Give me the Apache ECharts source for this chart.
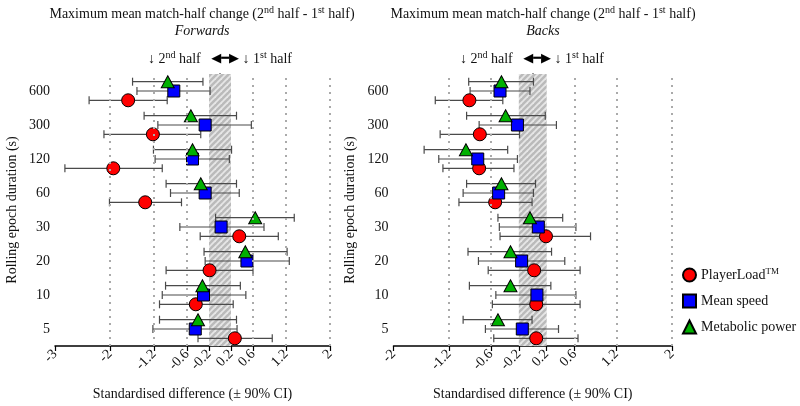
<!DOCTYPE html>
<html><head><meta charset="utf-8">
<script src="https://cdn.jsdelivr.net/npm/echarts@6/dist/echarts.min.js"></script>
<style>html,body{margin:0;padding:0;background:#fff}#c{width:800px;height:406px}</style>
</head><body><div id="c"></div>
<script>
// ---- data (categories bottom to top) ----
const durations = ['5','10','20','30','60','120','300','600'];
const ticksFwd = [-3,-2,-1.2,-0.6,-0.2,0.2,0.6,1.2,2];
const ticksBck = [-2,-1.2,-0.6,-0.2,0.2,0.6,1.2,2];
const gridFwd = [-2,-1.2,-0.6,0.6,1.2,2];
const gridBck = [-1.2,-0.6,0.6,1.2,2];
const trivialBand = [-0.2, 0.2];

// Forwards
const fwdPL   = [0.27,-0.44,-0.19,0.35,-1.36,-1.94,-1.22,-1.67];
const fwdPLlo = [-0.40,-1.10,-0.98,-0.36,-2.01,-2.82,-2.11,-2.38];
const fwdPLhi = [0.95,0.24,0.60,1.06,-0.70,-1.05,-0.35,-0.96];
const fwdMS   = [-0.45,-0.30,0.49,0.02,-0.27,-0.50,-0.27,-0.84];
const fwdMSlo = [-1.22,-1.05,-0.27,-0.73,-0.90,-1.18,-1.13,-1.51];
const fwdMShi = [0.31,0.47,1.26,0.80,0.35,0.17,0.57,-0.18];
const fwdMP   = [-0.40,-0.32,0.46,0.64,-0.35,-0.50,-0.53,-0.95];
const fwdMPlo = [-1.10,-0.99,-0.29,-0.08,-0.98,-1.21,-1.38,-1.59];
const fwdMPhi = [0.30,0.37,1.22,1.35,0.30,0.21,0.30,-0.31];

// Backs
const bckPL   = [0.05,0.05,0.02,0.19,-0.54,-0.77,-0.76,-0.91];
const bckPLlo = [-0.56,-0.58,-0.64,-0.47,-1.06,-1.29,-1.33,-1.40];
const bckPLhi = [0.65,0.68,0.68,0.83,-0.01,-0.27,-0.19,-0.43];
const bckMS   = [-0.15,0.06,-0.16,0.08,-0.49,-0.79,-0.22,-0.47];
const bckMSlo = [-0.68,-0.53,-0.78,-0.48,-1.00,-1.35,-0.77,-0.90];
const bckMShi = [0.37,0.62,0.46,0.62,0.01,-0.22,0.34,-0.04];
const bckMP   = [-0.50,-0.32,-0.32,-0.04,-0.45,-0.96,-0.39,-0.45];
const bckMPlo = [-1.00,-0.91,-0.93,-0.50,-0.95,-1.56,-0.95,-0.92];
const bckMPhi = [-0.01,0.26,0.27,0.43,0.04,-0.36,0.18,0.01];

// ---- styling ----
const FONT = 'Liberation Serif';
const OFF = 9.3;
const metrics = [
  {name:'PlayerLoad', symbol:'circle', color:'#ff0000', size:13, off: OFF},
  {name:'Mean speed', symbol:'rect', color:'#0000ff', size:12, off: 0},
  {name:'Metabolic power', symbol:'triangle', color:'#00b000', size:13, off: -OFF}
];
const panels = [
  {m:[[fwdPL,fwdPLlo,fwdPLhi],[fwdMS,fwdMSlo,fwdMShi],[fwdMP,fwdMPlo,fwdMPhi]], ticks:ticksFwd, grid:gridFwd, min:-3, max:2},
  {m:[[bckPL,bckPLlo,bckPLhi],[bckMS,bckMSlo,bckMShi],[bckMP,bckMPlo,bckMPhi]], ticks:ticksBck, grid:gridBck, min:-2, max:2}
];

// hatch pattern
const P = 6;
const pc = document.createElement('canvas');
pc.width = P; pc.height = P;
const g = pc.getContext('2d');
g.fillStyle = '#bababa'; g.fillRect(0,0,P,P);
g.strokeStyle = '#e6e6e6'; g.lineWidth = 1.8;
g.beginPath(); g.moveTo(-1,P+1); g.lineTo(P+1,-1); g.stroke();
g.beginPath(); g.moveTo(-1,1); g.lineTo(1,-1); g.stroke();
g.beginPath(); g.moveTo(P-1,P+1); g.lineTo(P+1,P-1); g.stroke();

const chart = echarts.init(document.getElementById('c'), null, {renderer:'canvas'});

const grids = [
  {left:55, right:470, top:74, bottom:57},
  {left:393.5, right:128, top:74, bottom:57}
];
const xAxes = [], yAxes = [], series = [];
panels.forEach((p, pi) => {
  xAxes.push({
    type:'value', gridIndex:pi, min:p.min, max:p.max,
    name:'Standardised difference (± 90% CI)', nameLocation:'middle', nameGap:41,
    nameTextStyle:{fontFamily:FONT, fontSize:14, color:'#111'},
    axisLine:{show:true, onZero:false, lineStyle:{color:'#000', width:1.5}},
    axisTick:{show:true, length:5, lineStyle:{color:'#000', width:1.2}, customValues:p.ticks},
    axisLabel:{rotate:45, fontFamily:FONT, fontSize:14, color:'#111', margin:6, customValues:p.ticks,
      formatter: v => String(v)},
    splitLine:{show:false}
  });
  yAxes.push({
    type:'category', gridIndex:pi, data:durations, boundaryGap:true,
    name:'Rolling epoch duration (s)', nameLocation:'middle', nameGap:36,
    nameTextStyle:{fontFamily:FONT, fontSize:14, color:'#111'},
    axisLine:{show:true, lineStyle:{color:'#000', width:1.5}},
    axisTick:{show:true, alignWithLabel:true, length:5, lineStyle:{color:'#000', width:1.2}},
    axisLabel:{fontFamily:FONT, fontSize:14, color:'#111', margin:5},
    splitLine:{show:false}
  });
  // reference band + dotted grid lines
  series.push({
    type:'scatter', xAxisIndex:pi, yAxisIndex:pi, data:[], silent:true, z:1,
    markArea:{silent:true, itemStyle:{color:{image:pc, repeat:'repeat'}},
      data:[[{xAxis:trivialBand[0]},{xAxis:trivialBand[1]}]]},
    markLine:{silent:true, symbol:'none', label:{show:false},
      lineStyle:{color:'#aaaaaa', type:[2,5], width:2},
      data:p.grid.map(v => ({xAxis:v}))}
  });
  p.m.forEach((arrs, mi) => {
    const mt = metrics[mi];
    const [mean, lo, hi] = arrs;
    series.push({
      type:'custom', xAxisIndex:pi, yAxisIndex:pi, z:2, silent:true,
      data: durations.map((d,i) => [lo[i], hi[i], i]),
      encode:{x:[0,1], y:2},
      renderItem:(params, api) => {
        const a = api.coord([api.value(0), api.value(2)]);
        const b = api.coord([api.value(1), api.value(2)]);
        const y = a[1] + mt.off;
        const st = {stroke:'#4a4a4a', lineWidth:1.2};
        return {type:'group', children:[
          {type:'line', shape:{x1:a[0], y1:y, x2:b[0], y2:y}, style:st},
          {type:'line', shape:{x1:a[0], y1:y-4, x2:a[0], y2:y+4}, style:st},
          {type:'line', shape:{x1:b[0], y1:y-4, x2:b[0], y2:y+4}, style:st}
        ]};
      }
    });
    series.push({
      type:'scatter', name:mt.name, xAxisIndex:pi, yAxisIndex:pi, z:3,
      symbol:mt.symbol, symbolSize: mt.symbol==='triangle' ? [13,12] : mt.size,
      symbolOffset:[0, mt.off],
      itemStyle:{color:mt.color, borderColor:'#000', borderWidth:1, opacity:1},
      data: durations.map((d,i) => [mean[i], i])
    });
  });
});

const rich = {
  a:{fontFamily:FONT, fontSize:14, fontWeight:'normal', color:'#111', lineHeight:18},
  i:{fontFamily:FONT, fontSize:14, fontWeight:'normal', color:'#111', fontStyle:'italic', lineHeight:18},
  s:{fontFamily:FONT, fontSize:10, fontWeight:'normal', color:'#111', verticalAlign:'top'},
  ar:{fontFamily:'DejaVu Sans', fontSize:13, fontWeight:'normal', color:'#000', lineHeight:18}
};
const titleText = '{a|Maximum mean match-half change (2}{s|nd}{a| half - 1}{s|st}{a| half)}';
const arrowText = '{a|↓ 2}{s|nd}{a| half   }{ar|◀━▶}{a| ↓ 1}{s|st}{a| half}';

chart.setOption({
  animation:false,
  backgroundColor:'#fff',
  grid:grids, xAxis:xAxes, yAxis:yAxes, series:series,
  title:[
    {text:titleText, left:197, top:0, textAlign:'center', textStyle:{fontWeight:'normal', rich}},
    {text:'{i|Forwards}', left:197, top:17, textAlign:'center', textStyle:{fontWeight:'normal', rich}},
    {text:arrowText, left:215, top:45, textAlign:'center', textStyle:{fontWeight:'normal', rich}},
    {text:titleText, left:538, top:0, textAlign:'center', textStyle:{fontWeight:'normal', rich}},
    {text:'{i|Backs}', left:538, top:17, textAlign:'center', textStyle:{fontWeight:'normal', rich}},
    {text:arrowText, left:527, top:45, textAlign:'center', textStyle:{fontWeight:'normal', rich}}
  ],
  legend:{
    orient:'vertical', left:677, top:262, itemGap:11, itemWidth:13, itemHeight:13,
    data:metrics.map(m => m.name),
    formatter: n => n==='PlayerLoad' ? '{a|PlayerLoad}{s|TM}' : '{a|'+n+'}',
    textStyle:{rich:{
      a:{fontFamily:FONT, fontSize:14, color:'#111', lineHeight:16},
      s:{fontFamily:FONT, fontSize:9, color:'#111', verticalAlign:'top'}
    }}
  }
});
</script></body></html>
